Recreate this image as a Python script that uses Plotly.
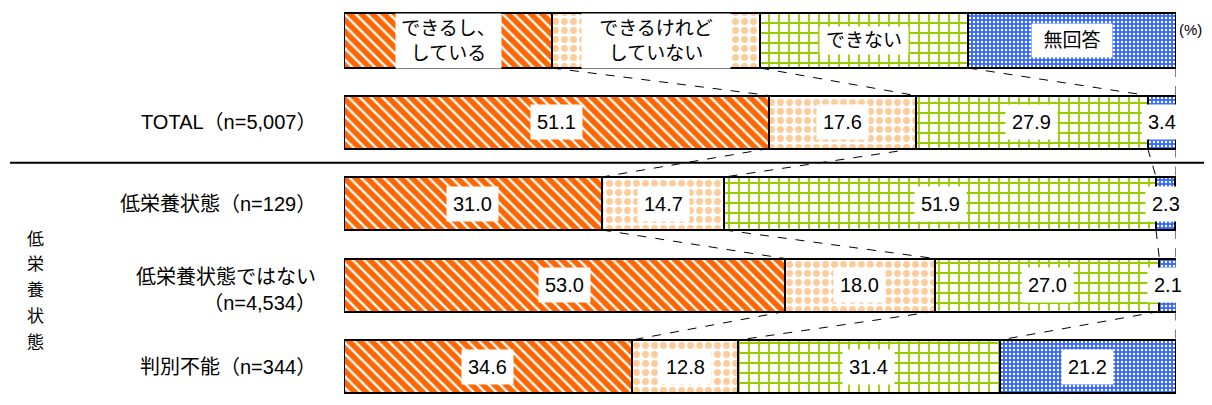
import plotly.graph_objects as go

categories = ["TOTAL（n=5,007）", "低栄養状態（n=129）", "低栄養状態ではない<br>（n=4,534）", "判別不能（n=344）"]
series_names = ["できるし、<br>している", "できるけれど<br>していない", "できない", "無回答"]
can_do = [51.1, 31.0, 53.0, 34.6]
can_but_not = [17.6, 14.7, 18.0, 12.8]
cannot = [27.9, 51.9, 27.0, 31.4]
no_answer = [3.4, 2.3, 2.1, 21.2]
legend_vals = [25, 25, 25, 25]
group_label = "低栄養状態"

series = [can_do, can_but_not, cannot, no_answer]
FONT = "Liberation Sans, Noto Sans CJK JP"

patterns = [
    dict(shape="\\", fgcolor="#FF6600", bgcolor="white", size=8, solidity=0.7, fgopacity=1),
    dict(shape=".", fgcolor="#FFCC99", bgcolor="white", size=9, solidity=0.45, fgopacity=1),
    dict(shape="+", fgcolor="#99CC00", bgcolor="white", size=10, solidity=0.33, fgopacity=1),
    dict(shape=".", fgcolor="white", bgcolor="#3366FF", size=4, solidity=0.3, fgopacity=1),
]

rows = [0, 1, 2, 3, 4]
widths = [0.675, 0.65, 0.65, 0.65, 0.65]

fig = go.Figure()
for k in range(4):
    xs = [legend_vals[k]] + series[k]
    fig.add_trace(go.Bar(
        x=xs, y=rows, orientation="h", width=widths,
        marker=dict(color="white", pattern=patterns[k], line=dict(color="black", width=2)),
        showlegend=False, hoverinfo="skip",
    ))

annotations = []
shapes = []

all_rows = [legend_vals] + [[series[k][i] for k in range(4)] for i in range(4)]
cums = []
for r in all_rows:
    c = [0]
    for v in r:
        c.append(c[-1] + v)
    cums.append(c)

# value labels
for i in range(4):
    for k in range(4):
        v = series[k][i]
        xc = cums[i + 1][k] + v / 2
        annotations.append(dict(
            x=xc, y=i + 1, xref="x", yref="y", text=f"{v:.1f}", showarrow=False,
            font=dict(family=FONT, size=20, color="black"), bgcolor="white", borderpad=6,
        ))

# legend labels on the legend bar
leg_w = [97, 140, 82, 68]
leg_pad = [4, 4, 3, 6]
for k in range(4):
    xc = cums[0][k] + legend_vals[k] / 2
    annotations.append(dict(
        x=xc, y=0, xref="x", yref="y", text=series_names[k], showarrow=False,
        font=dict(family=FONT, size=19, color="black"), bgcolor="white",
        borderpad=leg_pad[k], width=leg_w[k],
    ))

annotations.append(dict(x=1.0335, y=-0.129, xref="paper", yref="y", text="(%)", xanchor="right",
                        showarrow=False, font=dict(family=FONT, size=15, color="black")))

# category labels
for i, c in enumerate(categories):
    annotations.append(dict(
        x=-0.03125, y=i + 1, xref="paper", yref="y", text=c, showarrow=False, xanchor="right",
        align="right", font=dict(family=FONT, size=20, color="black"),
        yshift=-5 if "<br>" in c else 0,
    ))

# group vertical label
for j, ch in enumerate(group_label):
    annotations.append(dict(
        x=-0.3834, y=2.436 + 0.316 * j, xref="paper", yref="y", text=ch, showarrow=False,
        font=dict(family=FONT, size=17, color="black"),
    ))

# connector dashed lines
for i in range(4):
    top_w = widths[i] / 2
    bot_w = widths[i + 1] / 2
    for k in range(1, 5):
        x0 = cums[i][k]
        x1 = cums[i + 1][k]
        if k == 4:
            x0 = x1 = 100
        shapes.append(dict(type="line", xref="x", yref="y", x0=x0, x1=x1,
                           y0=i + top_w, y1=i + 1 - bot_w,
                           line=dict(color="black", width=1, dash="dash")))

# separator line
shapes.append(dict(type="line", xref="paper", yref="y", x0=-0.4014, x1=1.04, y0=1.5, y1=1.5,
                   line=dict(color="black", width=2)))

fig.update_layout(
    barmode="stack",
    width=1196, height=389,
    margin=dict(l=336, r=28, t=0, b=0),
    plot_bgcolor="white", paper_bgcolor="white",
    xaxis=dict(range=[0, 100], visible=False, fixedrange=True),
    yaxis=dict(range=[4.374, -0.3988], visible=False, fixedrange=True),
    annotations=annotations, shapes=shapes,
    bargap=0,
)

fig.write_html("out.html")
